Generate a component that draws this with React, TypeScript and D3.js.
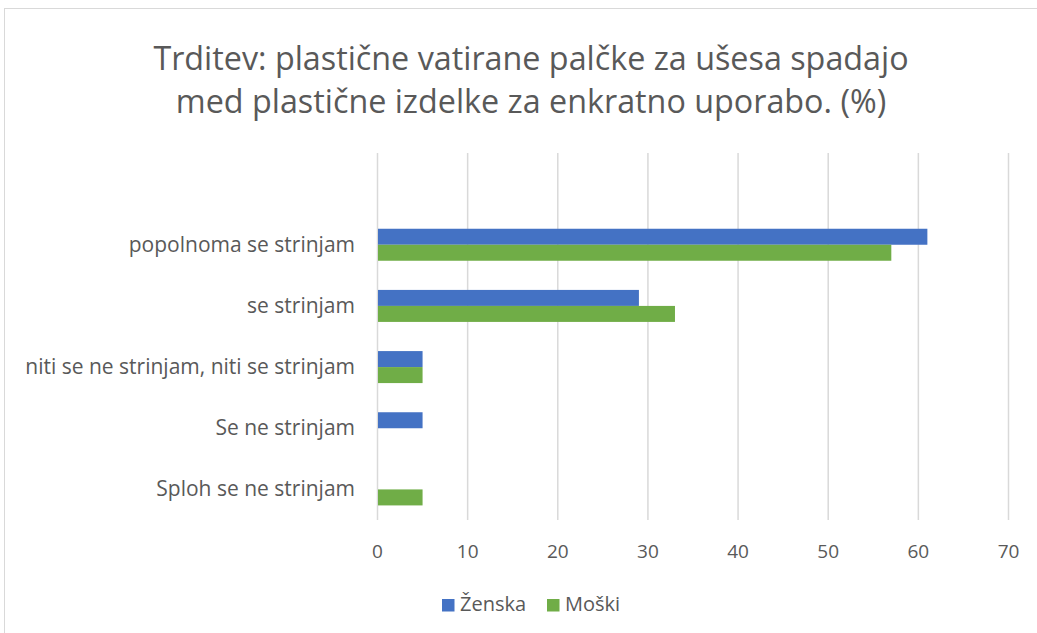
import React from "react";
import * as d3 from "d3";

const categories = [
  "popolnoma se strinjam",
  "se strinjam",
  "niti se ne strinjam, niti se strinjam",
  "Se ne strinjam",
  "Sploh se ne strinjam",
];
const zenska = [61, 29, 5, 5, 0];
const moski = [57, 33, 5, 0, 5];
const seriesNames = ["Ženska", "Moški"];
const seriesColors = ["#4472C4", "#70AD47"];
const xTicks = [0, 10, 20, 30, 40, 50, 60, 70];
const titleLines = [
  "Trditev: plastične vatirane palčke za ušesa spadajo",
  "med plastične izdelke za enkratno uporabo. (%)",
];

const W = 1037;
const H = 633;
const FONT = "'Open Sans', sans-serif";
const TEXT = "#595959";

export default function App() {
  const x = d3.scaleLinear().domain([0, 70]).range([377.5, 1008.5]);
  const slots = ["__blank__", ...categories];
  const y = d3.scaleBand().domain(slots).range([153, 520]);
  const barH = 16;
  const series = [zenska, moski];

  return (
    <svg
      width={W}
      height={H}
      style={{ position: "absolute", left: 0, top: 0, background: "#fff" }}
    >
      <rect x={4.5} y={8.5} width={W + 10} height={H + 10} fill="#fff" stroke="#d9d9d9" strokeWidth={1} />
      {titleLines.map((t, i) => (
        <text
          key={i}
          x={531}
          y={70 + i * 43}
          textAnchor="middle"
          fontFamily={FONT}
          fontSize={32.3}
          fill={TEXT}
        >
          {t}
        </text>
      ))}
      {xTicks.map((t) => (
        <g key={t}>
          <line x1={x(t)} x2={x(t)} y1={153} y2={520} stroke="#d9d9d9" strokeWidth={1.5} />
          <text x={x(t)} y={558} textAnchor="middle" fontFamily={FONT} fontSize={19} fill={TEXT}>
            {t}
          </text>
        </g>
      ))}
      {categories.map((c, i) => {
        const cy = (y(c) as number) + y.bandwidth() / 2;
        return (
          <g key={c}>
            <text x={355} y={cy + 7} textAnchor="end" fontFamily={FONT} fontSize={21} fill={TEXT}>
              {c}
            </text>
            {series.map((s, j) =>
              s[i] > 0 ? (
                <rect
                  key={j}
                  x={x(0) + 0.5}
                  y={cy - barH + j * barH}
                  width={x(s[i]) - x(0) - 0.5}
                  height={barH}
                  fill={seriesColors[j]}
                />
              ) : null
            )}
          </g>
        );
      })}
      {seriesNames.map((n, j) => {
        const lx = [442, 547][j];
        return (
          <g key={n}>
            <rect x={lx} y={599} width={12.5} height={12.5} fill={seriesColors[j]} />
            <text x={lx + 18} y={611} fontFamily={FONT} fontSize={20} fill={TEXT}>
              {n}
            </text>
          </g>
        );
      })}
    </svg>
  );
}
